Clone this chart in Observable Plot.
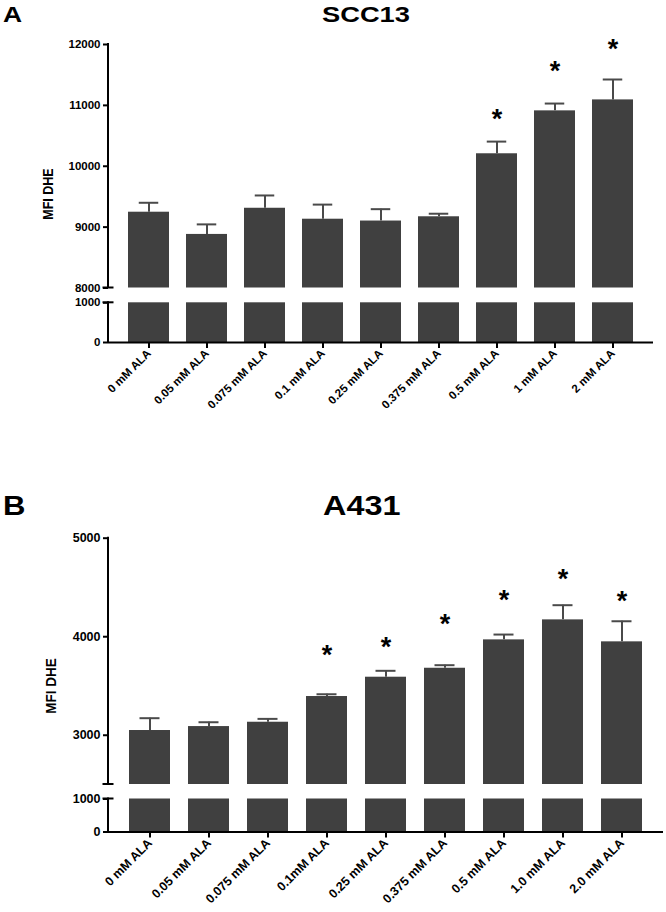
<!DOCTYPE html>
<html><head><meta charset="utf-8">
<script src="https://cdn.jsdelivr.net/npm/d3@7"></script>
<script src="https://cdn.jsdelivr.net/npm/@observablehq/plot@0.6"></script>
<style>
body{margin:0;background:#fff;}
#wrap{position:relative;width:666px;height:912px;overflow:hidden;font-family:"Liberation Sans",Arial,sans-serif;font-weight:bold;background:#fff;}
.abs{position:absolute;line-height:1;white-space:nowrap;color:#000;transform-origin:0 0;}
.ylab{position:absolute;line-height:1;white-space:nowrap;color:#000;}
.panel{position:absolute;left:0;width:666px;}
.panel svg{position:absolute;left:0;top:0;}
.panel svg [aria-label^="y-axis"] line, .panel svg [aria-label^="y-axis"] path,
.panel svg [aria-label^="x-axis"] line, .panel svg [aria-label^="x-axis"] path{stroke-width:2px;}
</style>
</head><body>
<div id="wrap">
  <div class="panel" id="pA" style="top:0;height:430px"></div>
  <div class="panel" id="pB" style="top:430px;height:482px"></div>
  <div class="abs" style="left:3px;top:4px;font-size:22px;transform:scaleX(1.2)">A</div>
  <div class="abs" id="tA" style="top:4px;font-size:22px">SCC13</div>
  <div class="ylab" id="yA" style="font-size:12.5px">MFI DHE</div>
  <div class="abs" style="left:3px;top:493px;font-size:27px;transform:scaleX(1.15)">B</div>
  <div class="abs" id="tB" style="top:493px;font-size:27px">A431</div>
  <div class="ylab" id="yB" style="font-size:13.5px">MFI DHE</div>
</div>
<script>
// ---- data ----
const categoriesA = ["0 mM ALA","0.05 mM ALA","0.075 mM ALA","0.1 mM ALA","0.25 mM ALA","0.375 mM ALA","0.5 mM ALA","1 mM ALA","2 mM ALA"];
const meanA = [9245, 8880, 9310, 9130, 9100, 9170, 10205, 10910, 11090];
const semA  = [155, 165, 210, 240, 195, 50, 200, 120, 335];
const starA = [null, null, null, null, null, null, 10870, 11665, 12020];
const lowerTicksA = [0, 1000];
const upperTicksA = [8000, 9000, 10000, 11000, 12000];
const lowerDomainA = [0, 1000];
const upperDomainA = [8000, 12000];

const categoriesB = ["0 mM ALA","0.05 mM ALA","0.075 mM ALA","0.1mM ALA","0.25 mM ALA","0.375 mM ALA","0.5 mM ALA","1.0 mM ALA","2.0 mM ALA"];
const meanB = [3048, 3088, 3132, 3393, 3589, 3680, 3968, 4171, 3948];
const semB  = [125, 44, 34, 23, 65, 31, 54, 149, 209];
const starB = [null, null, null, 3877, 3961, 4188, 4435, 4644, 4428];
const lowerTicksB = [0, 1000];
const upperTicksB = [3000, 4000, 5000];
const lowerDomainB = [0, 1000];
const upperDomainB = [2500, 5000];

const BAR = "#404040", ERR = "#4a4a4a";

// axis segment drawn with the plot's own y scale; breakAt = end of segment next to the gap
function axisSegment(domain, breakAt) {
  return (index, scales, values, dims) => {
    const x0 = dims.marginLeft;
    const g = d3.create("svg:g").attr("stroke", "#000").attr("stroke-width", 2).attr("fill", "none");
    g.append("line").attr("x1", x0).attr("x2", x0)
      .attr("y1", scales.y(domain[0]) + (domain[0] === 0 ? 1 : 0)).attr("y2", scales.y(domain[1]) - 1);
    g.append("line").attr("x1", x0 - 5.5).attr("x2", x0 + 5.5)
      .attr("y1", scales.y(breakAt)).attr("y2", scales.y(breakAt));
    return g.node();
  };
}

function segment({cats, rows, part, domain, ticks, top, bottom, height, marginRight, pi, po, fontSize, capInset, starRows}) {
  const lower = part === "lower";
  const marks = lower
    ? [
        Plot.barY(rows, {x: "cat", y1: domain[0], y2: domain[1], fill: BAR}),
        Plot.ruleY([domain[0]], {stroke: "#000", strokeWidth: 2}),
        axisSegment(domain, domain[1])
      ]
    : [
        Plot.barY(rows, {x: "cat", y1: domain[0], y2: "mean", fill: BAR}),
        Plot.ruleX(rows, {x: "cat", y1: "mean", y2: "hi", stroke: ERR, strokeWidth: 2}),
        Plot.tickY(rows, {x: "cat", y: "hi", stroke: ERR, strokeWidth: 2, insetLeft: capInset, insetRight: capInset}),
        axisSegment(domain, domain[0]),
        Plot.text(starRows, {x: "cat", y: "star", text: () => "*", fontSize: 27, dy: 6.5, fill: "#000"})
      ];
  return Plot.plot({
    width: 666, height,
    marginLeft: 108, marginRight,
    marginTop: top, marginBottom: height - bottom,
    style: {fontFamily: "Liberation Sans, Arial, sans-serif", fontSize: fontSize + "px", fontWeight: "bold", color: "#000", background: "transparent", overflow: "visible"},
    x: lower
      ? {domain: cats, paddingInner: pi, paddingOuter: po, tickSize: 6, tickRotate: -45, tickPadding: 3, label: null}
      : {domain: cats, paddingInner: pi, paddingOuter: po, axis: null},
    y: {domain, ticks, tickSize: 5, tickPadding: 3, tickFormat: d => String(d), label: null},
    marks
  });
}

function panel(el, cfg) {
  const rows = cfg.cats.map((c, i) => ({cat: c, mean: cfg.mean[i], hi: cfg.mean[i] + cfg.sem[i], star: cfg.star[i]}));
  const starRows = rows.filter(d => d.star != null);
  const common = {cats: cfg.cats, rows, starRows, height: cfg.height, marginRight: cfg.marginRight, pi: cfg.pi, po: cfg.po, fontSize: cfg.fontSize, capInset: cfg.capInset};
  el.append(segment({...common, part: "lower", domain: cfg.lowerDomain, ticks: cfg.lowerTicks, top: cfg.lowerTop, bottom: cfg.lowerBottom}));
  el.append(segment({...common, part: "upper", domain: cfg.upperDomain, ticks: cfg.upperTicks, top: cfg.upperTop, bottom: cfg.upperBottom}));
}

panel(document.getElementById("pA"), {
  cats: categoriesA, mean: meanA, sem: semA, star: starA,
  lowerDomain: lowerDomainA, lowerTicks: lowerTicksA, upperDomain: upperDomainA, upperTicks: upperTicksA,
  lowerTop: 302.3, lowerBottom: 342, upperTop: 44, upperBottom: 287.5,
  height: 430, marginRight: 13, pi: 0.288, po: 0.322, fontSize: 11.5, capInset: 10.75
});
panel(document.getElementById("pB"), {
  cats: categoriesB, mean: meanB, sem: semB, star: starB,
  lowerDomain: lowerDomainB, lowerTicks: lowerTicksB, upperDomain: upperDomainB, upperTicks: upperTicksB,
  lowerTop: 368.5, lowerBottom: 401.5, upperTop: 107.7, upperBottom: 354,
  height: 482, marginRight: 3, pi: 0.3, po: 0.314, fontSize: 12.5, capInset: 10.5
});

// titles centred, stretched horizontally like the original
function place(id, cx, sx) {
  const el = document.getElementById(id);
  const w = el.getBoundingClientRect().width;
  el.style.left = (cx - w * sx / 2) + "px";
  el.style.transform = `scaleX(${sx})`;
}
place("tA", 366, 1.24);
place("tB", 362, 1.2);
function ylab(id, cx, cy) {
  const el = document.getElementById(id);
  el.style.left = cx + "px"; el.style.top = cy + "px";
  el.style.transform = "translate(-50%,-50%) rotate(-90deg) scaleY(1.15)";
}
ylab("yA", 48.5, 193.5);
ylab("yB", 50.5, 685.5);
</script>
</body></html>
